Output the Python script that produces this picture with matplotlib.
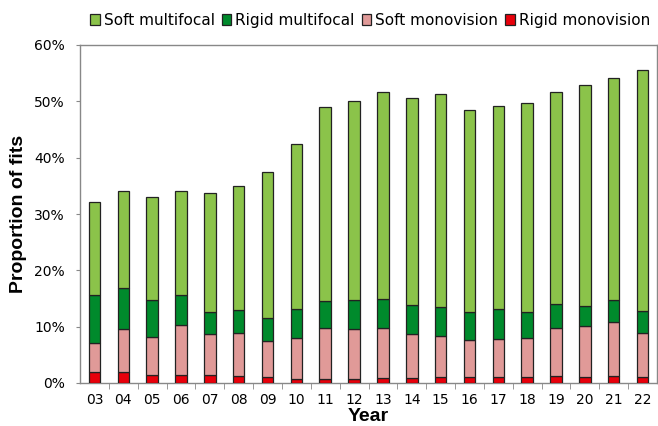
import numpy as np
import matplotlib
matplotlib.use("Agg")
import matplotlib.pyplot as plt
from matplotlib.ticker import FixedLocator, PercentFormatter

# data (percent of fits)
years = ["03", "04", "05", "06", "07", "08", "09", "10", "11", "12",
         "13", "14", "15", "16", "17", "18", "19", "20", "21", "22"]
rigid_mono = [1.9, 1.9, 1.5, 1.5, 1.4, 1.2, 1.0, 0.7, 0.7, 0.7,
              0.8, 0.8, 1.0, 1.0, 1.0, 1.0, 1.2, 1.0, 1.2, 1.0]
soft_mono = [5.2, 7.7, 6.7, 8.8, 7.3, 7.7, 6.5, 7.3, 9.1, 8.9,
             9.0, 7.9, 7.3, 6.6, 6.8, 7.0, 8.6, 9.1, 9.6, 7.9]
rigid_multi = [8.5, 7.2, 6.5, 5.3, 3.9, 4.1, 4.0, 5.1, 4.7, 5.1,
               5.1, 5.1, 5.2, 5.0, 5.3, 4.6, 4.2, 3.6, 3.9, 3.9]
soft_multi = [16.6, 17.2, 18.3, 18.4, 21.1, 21.9, 26.0, 29.3, 34.5, 35.4,
              36.8, 36.8, 37.8, 35.9, 36.1, 37.1, 37.7, 39.2, 39.4, 42.8]

series = [
    ("Rigid monovision", rigid_mono, "#e8000b"),
    ("Soft monovision", soft_mono, "#e09a98"),
    ("Rigid multifocal", rigid_multi, "#008a2c"),
    ("Soft multifocal", soft_multi, "#8bc34a"),
]

fig = plt.figure(figsize=(6.58, 4.26), dpi=100)
ax = fig.add_axes([80 / 658, 43 / 426, 577 / 658, 338 / 426])

x = np.arange(len(years))
bottom = np.zeros(len(years))
handles = {}
for name, vals, col in series:
    vals = np.array(vals)
    b = ax.bar(x, vals, 0.4, bottom=bottom, color=col, edgecolor="#222222",
               linewidth=0.9, label=name, zorder=3)
    handles[name] = b
    bottom += vals

ax.set_xlim(-0.5, len(years) - 0.5)
ax.set_ylim(0, 60)
ax.yaxis.set_major_locator(FixedLocator(np.arange(0, 61, 10)))
ax.yaxis.set_major_formatter(PercentFormatter(decimals=0))

ax.set_xticks(x)
ax.set_xticklabels(years)
ax.xaxis.set_minor_locator(FixedLocator(np.arange(0.5, len(years) - 0.5, 1)))
ax.tick_params(axis="x", which="major", length=0, pad=7, labelsize=10)
ax.tick_params(axis="x", which="minor", length=4, color="#888888")
ax.tick_params(axis="y", length=3, color="#888888", pad=8, labelsize=10)

for s in ax.spines.values():
    s.set_color("#888888")
    s.set_linewidth(1.0)

ax.set_xlabel("Year", fontsize=14, fontweight="bold", family="Liberation Sans", labelpad=1)
ax.set_ylabel("Proportion of fits", fontsize=14, fontweight="bold",
              family="Liberation Sans", labelpad=5)

order = ["Soft multifocal", "Rigid multifocal", "Soft monovision", "Rigid monovision"]
fig.legend([handles[n] for n in order], order, loc="center",
           bbox_to_anchor=(370 / 658, 0.952), ncol=4, frameon=False,
           fontsize=11, handlelength=0.65, handleheight=0.65,
           handletextpad=0.25, columnspacing=0.45, borderaxespad=0)

fig.savefig("out.png", dpi=100)
